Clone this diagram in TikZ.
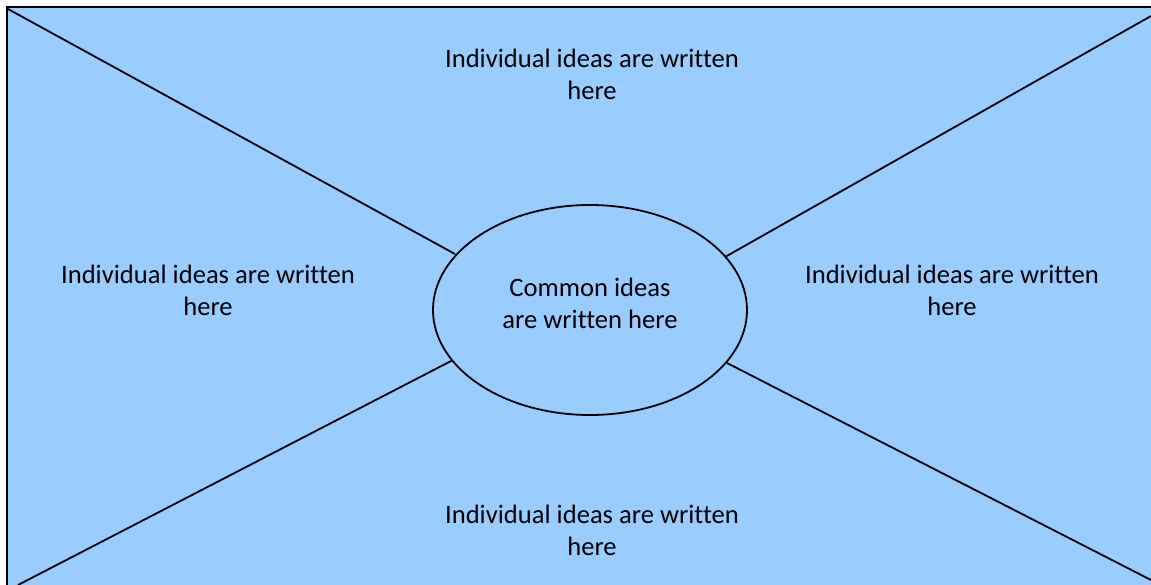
\documentclass[tikz,border=0pt]{standalone}
\usepackage{fontspec}
\setmainfont[Ligatures={NoCommon}]{Carlito}
\usetikzlibrary{shapes.geometric}
\definecolor{paneblue}{HTML}{99CCFF}
\tikzset{
  idea/.style={align=center, font=\fontsize{26.6}{32}\selectfont, inner sep=0pt},
  spoke/.style={draw=black, line width=1.8pt},
  hub/.style={ellipse, draw=black, line width=1.8pt, fill=paneblue, minimum width=314pt, minimum height=210pt, inner sep=0pt}
}
\begin{document}
\begin{tikzpicture}[x=1pt,y=-1pt]
\useasboundingbox (0,0) rectangle (1151,585);
\clip (0,0) rectangle (1151,585);
\draw[line width=2pt, fill=paneblue] (7,7) rectangle (1170,600);
\coordinate (tl) at (8,9);
\coordinate (tr) at (1151,16);
\coordinate (bl) at (18,585);
\coordinate (br) at (1151,580);
\coordinate (etl) at (455,254);
\coordinate (etr) at (725,257);
\coordinate (ebl) at (453,360);
\coordinate (ebr) at (727,363);
\draw[spoke] (tl) -- (etl);
\draw[spoke] (tr) -- (etr);
\draw[spoke] (bl) -- (ebl);
\draw[spoke] (br) -- (ebr);
\node[hub] (hub) at (590,310) {};
\node[idea] (common) at (590,303) {Common ideas\\are written here};
\node[idea] (top) at (592,74) {Individual ideas are written\\here};
\node[idea] (left) at (208,290) {Individual ideas are written\\here};
\node[idea] (right) at (952,290) {Individual ideas are written\\here};
\node[idea] (bottom) at (592,530) {Individual ideas are written\\here};
\end{tikzpicture}
\end{document}
